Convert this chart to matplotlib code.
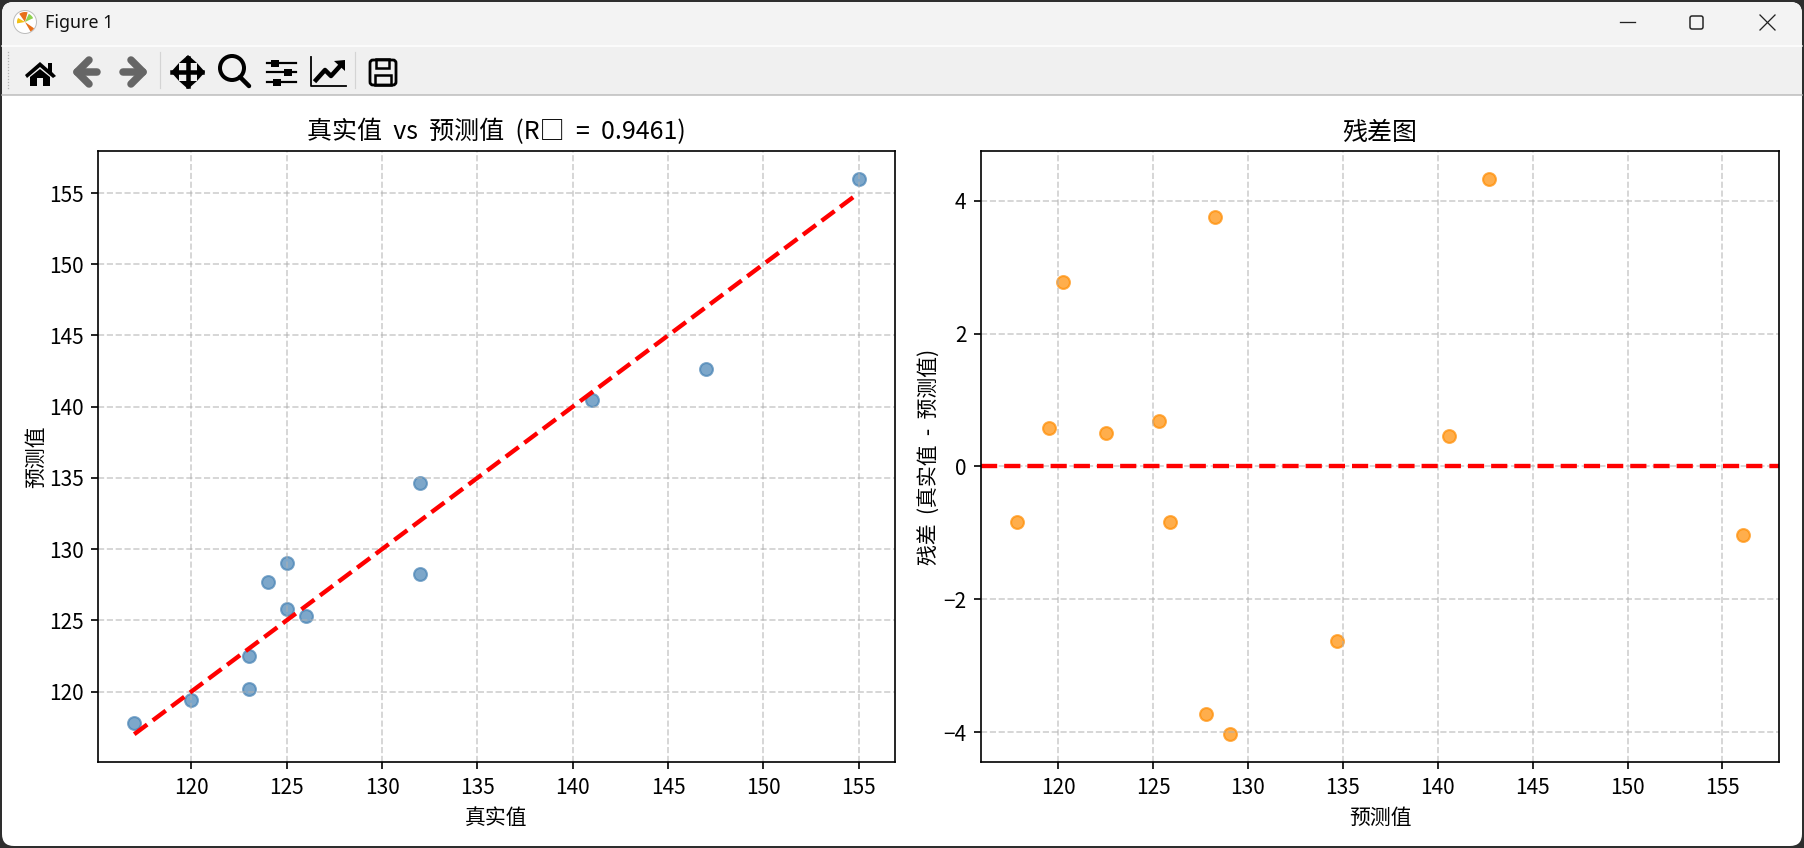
import matplotlib
matplotlib.use('Agg')
import matplotlib.pyplot as plt
from matplotlib.patches import FancyBboxPatch, Rectangle, Circle, Polygon, Wedge

plt.rcParams['font.family'] = ['Noto Sans CJK SC', 'DejaVu Sans']
plt.rcParams['axes.unicode_minus'] = True

# values
y_true = [117, 120, 123, 123, 124, 125, 125, 126, 132, 132, 141, 147, 155]
y_pred = [117.8, 119.4, 120.2, 122.5, 127.7, 125.8, 129.0, 125.3, 134.65, 128.25, 140.45, 142.65, 156.0]
resid_x = [117.85, 119.52, 120.27, 122.52, 125.32, 125.87, 127.77, 128.27, 129.05, 134.67, 140.57, 142.72, 156.07]
resid_y = [-0.84, 0.58, 2.77, 0.5, 0.68, -0.84, -3.73, 3.76, -4.03, -2.63, 0.46, 4.33, -1.03]
line_ends = [117, 155]
r2_text = '0.9461'

W, H = 1804, 848
DPI = 150
fig = plt.figure(figsize=(W / DPI, H / DPI), dpi=DPI, facecolor='#2e2e2e')


def px(v):
    return v * 72 / DPI


# window frame and toolbar, in pixels
bg = fig.add_axes([0, 0, 1, 1], zorder=0)
bg.set_xlim(0, W)
bg.set_ylim(H, 0)
bg.axis('off')
frame = FancyBboxPatch((2, 2), W - 4, H - 4, boxstyle='round,pad=0,rounding_size=12', fc='white', ec='none')
bg.add_patch(frame)
top = Rectangle((2, 2), W - 4, 93, fc='#f0f0f0', ec='none')
bg.add_patch(top)
top.set_clip_path(frame)
title_bar = Rectangle((2, 2), W - 4, 43, fc='#f3f3f3', ec='none')
bg.add_patch(title_bar)
title_bar.set_clip_path(frame)
bg.plot([2, W - 2], [45.5, 45.5], color='white', lw=px(1.5))
bg.plot([2, W - 2], [94.5, 94.5], color='#bcbcbc', lw=px(1.5))

# window icon and title
bg.add_patch(Circle((25, 22), 11.5, fc='white', ec='#bdbdbd', lw=px(1)))
bg.add_patch(Wedge((25, 22), 10, 235, 285, fc='#e8701a', ec='none'))
bg.add_patch(Wedge((25, 22), 8, 170, 210, fc='#f2c014', ec='none'))
bg.add_patch(Wedge((25, 22), 9, 295, 335, fc='#8fd14f', ec='none'))
bg.add_patch(Wedge((25, 22), 11, 35, 60, fc='#e8701a', ec='none'))
bg.text(45, 23, 'Figure 1', fontsize=8.6, family='Noto Sans', va='center', ha='left', color='#111111')

# window buttons
bg.plot([1620, 1635], [22, 22], color='#222222', lw=px(1.3))
bg.add_patch(FancyBboxPatch((1690, 16), 13, 13, boxstyle='round,pad=0,rounding_size=2', fc='none',
                            ec='#222222', lw=px(1.5)))
bg.plot([1760, 1775], [15, 30], color='#222222', lw=px(1.3))
bg.plot([1760, 1775], [30, 15], color='#222222', lw=px(1.3))

# toolbar grip and separators
for gy in range(52, 89, 3):
    bg.plot([8], [gy], marker='s', ms=px(1.3), color='#b5b5b5', mec='none')
bg.plot([159.5, 159.5], [52, 88], color='#d4d4d4', lw=px(1.2))
bg.plot([354.5, 354.5], [52, 88], color='#d4d4d4', lw=px(1.2))

# home
bg.add_patch(Polygon([(25, 75), (40, 62), (48, 69), (48, 63), (52, 63), (52, 72), (56, 76), (53, 78), (40, 67), (27, 78)],
                     fc='black', ec='none'))
bg.add_patch(Polygon([(30, 77), (40, 69), (50, 77), (50, 86), (43, 86), (43, 78), (37, 78), (37, 86), (30, 86)],
                     fc='black', ec='none'))
# back and forward
for xs in ([97, 77], [123, 143]):
    tip = xs[1]
    d = 1 if tip > xs[0] else -1
    bg.plot(xs, [72, 72], color='#666666', lw=px(7.5), solid_capstyle='round')
    bg.plot([tip - d * 12, tip, tip - d * 12], [60, 72, 84], color='#666666', lw=px(7.5),
            solid_capstyle='round', solid_joinstyle='round')
# pan
bg.plot([172, 202], [72, 72], color='black', lw=px(4.5))
bg.plot([188, 188], [58, 86], color='black', lw=px(4.5))
bg.add_patch(Polygon([(171, 72), (179, 63), (179, 81)], fc='black', ec='none'))
bg.add_patch(Polygon([(205, 72), (197, 63), (197, 81)], fc='black', ec='none'))
bg.add_patch(Polygon([(188, 55), (179, 63), (197, 63)], fc='black', ec='none'))
bg.add_patch(Polygon([(188, 89), (179, 81), (197, 81)], fc='black', ec='none'))
# zoom
bg.add_patch(Circle((232, 68), 12, fc='none', ec='black', lw=px(4)))
bg.plot([240, 249], [77, 86], color='black', lw=px(4.5), solid_capstyle='round')
# sliders
for sy, kx in ((63, 275), (72, 288), (82, 277)):
    bg.plot([267, 296], [sy, sy], color='black', lw=px(2.2))
    bg.add_patch(Rectangle((kx - 4, sy - 3.5), 8, 7, fc='black', ec='none'))
# axes edit
bg.plot([311, 311, 346], [57, 86, 86], color='black', lw=px(1.8))
bg.plot([316, 325, 331, 341], [80, 70, 76, 65], color='black', lw=px(4.5))
bg.add_patch(Polygon([(345, 60), (345, 71), (334, 61)], fc='black', ec='none'))
# save
bg.add_patch(FancyBboxPatch((370, 60), 26, 25, boxstyle='round,pad=0,rounding_size=3', fc='none', ec='black', lw=px(2.8)))
bg.add_patch(Rectangle((376, 59), 13, 9, fc='none', ec='black', lw=px(2.5)))
bg.add_patch(Rectangle((375, 75), 16, 10, fc='none', ec='black', lw=px(2.5)))

# the two plots
ax1 = fig.add_axes([98 / W, 1 - 762 / H, (895 - 98) / W, (762 - 151) / H], zorder=1)
ax2 = fig.add_axes([981 / W, 1 - 762 / H, (1779 - 981) / W, (762 - 151) / H], zorder=1)

ax1.scatter(y_true, y_pred, s=38, alpha=0.7, color='steelblue')
ax1.plot(line_ends, line_ends, 'r--', lw=2.1)
ax1.set_xlabel('真实值')
ax1.set_ylabel('预测值', labelpad=0.5)
# doubled spaces stand in for the wider half-width latin of the original font
ax1.set_title('真实值  vs  预测值  (R\u25a1  =  ' + r2_text + ')', pad=5.5)
ax1.grid(True, linestyle='--', alpha=0.6)

ax2.scatter(resid_x, resid_y, s=38, alpha=0.7, color='darkorange')
ax2.axhline(0, color='r', linestyle='--', lw=2.1)
ax2.set_xlabel('预测值')
ax2.set_ylabel('残差  (真实值  -  预测值)', labelpad=1)
ax2.set_title('残差图', pad=5.5)
ax2.grid(True, linestyle='--', alpha=0.6)

fig.savefig('out.png', dpi=DPI, facecolor=fig.get_facecolor())
